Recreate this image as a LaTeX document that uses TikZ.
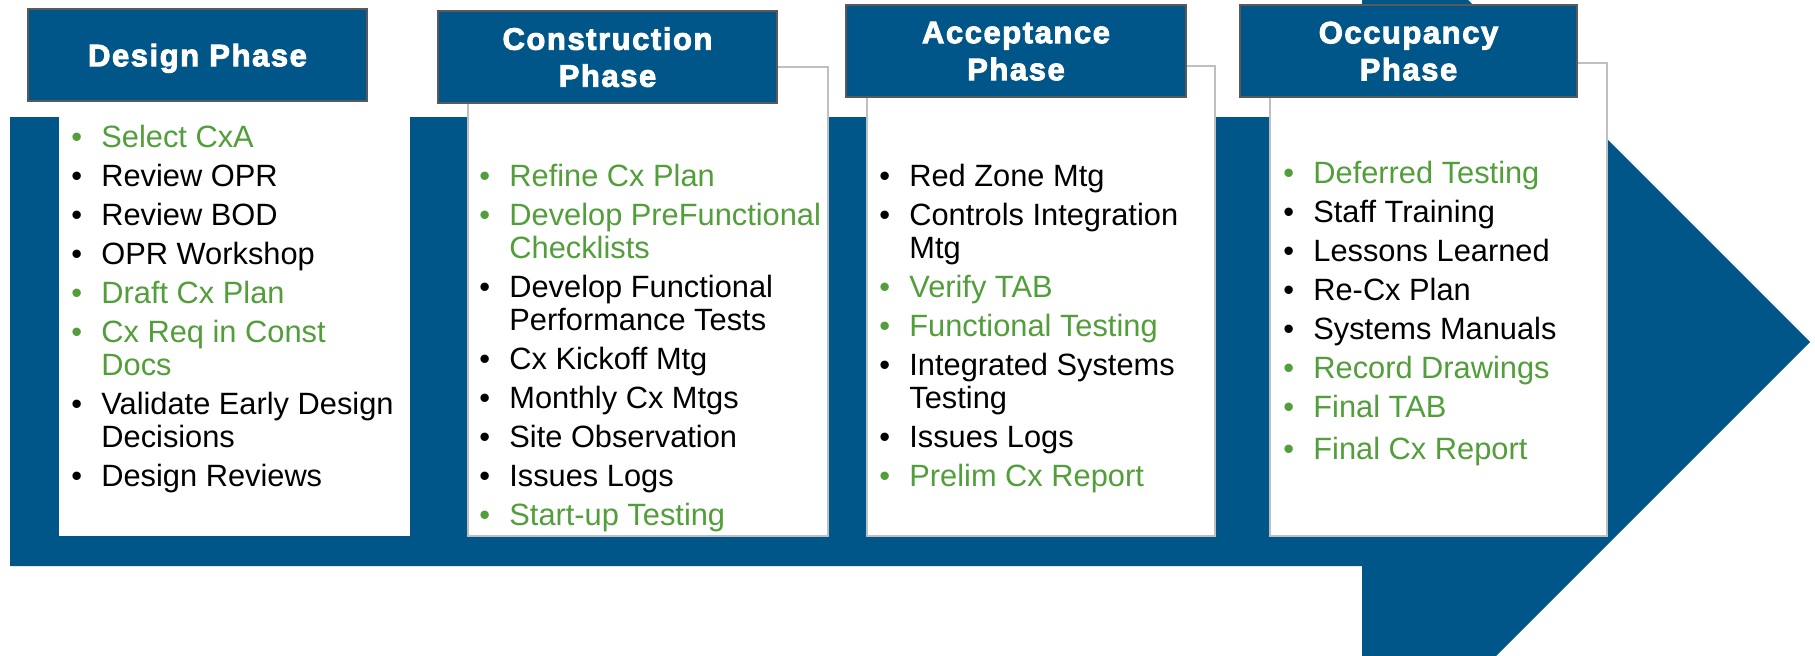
\documentclass[tikz,border=0pt]{standalone}
\usepackage{fontspec}
\setmainfont{Liberation Sans}
\newfontfamily\headfont[FakeBold=3,LetterSpace=5]{Liberation Sans Bold}
\usepackage{xcolor}
\definecolor{cxblue}{RGB}{0,86,136}
\definecolor{cxgreen}{RGB}{82,158,58}
\definecolor{headline}{RGB}{89,89,89}
\definecolor{boxline}{RGB}{191,191,191}
\newcommand{\gi}[1]{\textcolor{cxgreen}{\textbullet}&\textcolor{cxgreen}{#1}}
\newcommand{\gc}[1]{&\textcolor{cxgreen}{#1}}
\newcommand{\bi}[1]{\textbullet&#1}
\newcommand{\bc}[1]{&#1}
\newcommand{\isep}{\\[2.8pt]}

\begin{document}
\begin{tikzpicture}[x=0.5pt,y=-0.5pt,
    phasehead/.style={draw=headline, line width=1pt, fill=cxblue, text=white,
        font=\headfont\fontsize{15.5pt}{18.5pt}\selectfont, align=center,
        text depth=0pt, minimum height=46pt, inner sep=0pt},
    phasebox/.style={draw=boxline, line width=0.75pt, fill=white},
    phaselist/.style={anchor=base west, inner sep=0pt,
        font=\fontsize{15.4pt}{16.7pt}\selectfont}]
    \useasboundingbox (0,0) rectangle (1815,655);

    % big arrow behind everything
    \begin{scope}
        \clip (0,0) rectangle (1815,655);
        \fill[cxblue] (10,117) -- (1362,117) -- (1362,-106) -- (1810,342)
            -- (1362,790) -- (1362,566) -- (10,566) -- cycle;
    \end{scope}

    % white panels
    \fill[white] (59,117) rectangle (410,536);
    \draw[phasebox] (468,67) rectangle (828,536);
    \draw[phasebox] (867,66) rectangle (1215,536);
    \draw[phasebox] (1270,63) rectangle (1607,536);

    % phase titles
    \node[phasehead, minimum width=169.5pt] (design) at (197.5,55) {Design Phase};
    \node[phasehead, minimum width=169.5pt] (construction) at (607.5,57) {Construction\\Phase};
    \node[phasehead, minimum width=170pt] (acceptance) at (1016,51) {Acceptance\\Phase};
    \node[phasehead, minimum width=168.5pt] (occupancy) at (1408.5,51) {Occupancy\\Phase};

    % task lists
    \node[phaselist] (designlist) at (71,147) {\begin{tabular}[t]{@{}p{15pt}@{}l@{}}
        \gi{Select CxA}\isep
        \bi{Review OPR}\isep
        \bi{Review BOD}\isep
        \bi{OPR Workshop}\isep
        \gi{Draft Cx Plan}\isep
        \gi{Cx Req in Const}\\
        \gc{Docs}\isep
        \bi{Validate Early Design}\\
        \bc{Decisions}\isep
        \bi{Design Reviews}
    \end{tabular}};
    \node[phaselist] (constructionlist) at (479,186) {\begin{tabular}[t]{@{}p{15pt}@{}l@{}}
        \gi{Refine Cx Plan}\isep
        \gi{Develop PreFunctional}\\
        \gc{Checklists}\isep
        \bi{Develop Functional}\\
        \bc{Performance Tests}\isep
        \bi{Cx Kickoff Mtg}\isep
        \bi{Monthly Cx Mtgs}\isep
        \bi{Site Observation}\isep
        \bi{Issues Logs}\isep
        \gi{Start-up Testing}
    \end{tabular}};
    \node[phaselist] (acceptancelist) at (879,186) {\begin{tabular}[t]{@{}p{15pt}@{}l@{}}
        \bi{Red Zone Mtg}\isep
        \bi{Controls Integration}\\
        \bc{Mtg}\isep
        \gi{Verify TAB}\isep
        \gi{Functional Testing}\isep
        \bi{Integrated Systems}\\
        \bc{Testing}\isep
        \bi{Issues Logs}\isep
        \gi{Prelim Cx Report}
    \end{tabular}};
    \node[phaselist] (occupancylist) at (1283,183) {\begin{tabular}[t]{@{}p{15pt}@{}l@{}}
        \gi{Deferred Testing}\isep
        \bi{Staff Training}\isep
        \bi{Lessons Learned}\isep
        \bi{Re-Cx Plan}\isep
        \bi{Systems Manuals}\isep
        \gi{Record Drawings}\isep
        \gi{Final TAB}\\[4.5pt]
        \gi{Final Cx Report}
    \end{tabular}};
\end{tikzpicture}
\end{document}
